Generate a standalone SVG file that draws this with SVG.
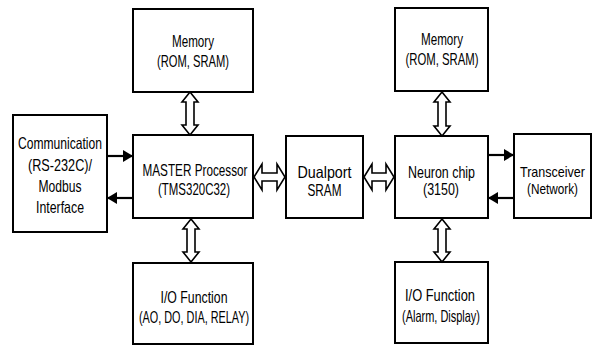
<svg xmlns="http://www.w3.org/2000/svg" width="595" height="346" viewBox="0 0 595 346">
<defs>
<style>
.box{fill:#fff;stroke:#000;stroke-width:2}
text{font-family:"Liberation Sans",Arial,sans-serif;font-size:16.5px;text-anchor:middle;fill:#000}
.sm{font-size:14.5px}
.ha{fill:#fff;stroke:#000;stroke-width:1.6;stroke-linejoin:miter}
.ln{stroke:#000;stroke-width:2.2;fill:none}
</style>
<marker id="ah" viewBox="0 0 10 12" refX="10" refY="6" markerWidth="10" markerHeight="12" markerUnits="userSpaceOnUse" orient="auto">
<path d="M0,0 L10,6 L0,12 Z" fill="#000"/>
</marker>
</defs>
<rect width="595" height="346" fill="#fff"/>
<g id="mem1"><rect class="box" x="133" y="9" width="120" height="83"/>
<text x="193" y="47" textLength="42" lengthAdjust="spacingAndGlyphs">Memory</text>
<text x="193" y="67" textLength="72" lengthAdjust="spacingAndGlyphs">(ROM, SRAM)</text></g>
<g id="master"><rect class="box" x="133" y="135" width="120" height="83"/>
<text x="195" y="176" textLength="105" lengthAdjust="spacingAndGlyphs">MASTER Processor</text>
<text x="194" y="195" textLength="72" lengthAdjust="spacingAndGlyphs">(TMS320C32)</text></g>
<g id="io1"><rect class="box" x="133" y="263" width="120" height="81"/>
<text x="194" y="303" textLength="67" lengthAdjust="spacingAndGlyphs">I/O Function</text>
<text x="194" y="323" textLength="110" lengthAdjust="spacingAndGlyphs">(AO, DO, DIA, RELAY)</text></g>
<g id="comm"><rect class="box" x="13" y="115" width="94" height="117"/>
<text x="60" y="149" textLength="84" lengthAdjust="spacingAndGlyphs">Communication</text>
<text x="60" y="171" textLength="64" lengthAdjust="spacingAndGlyphs">(RS-232C)/</text>
<text x="60" y="192" textLength="43" lengthAdjust="spacingAndGlyphs">Modbus</text>
<text x="60" y="213" textLength="48" lengthAdjust="spacingAndGlyphs">Interface</text></g>
<g id="dual"><rect class="box" x="286" y="136" width="77" height="82"/>
<text x="324.5" y="178" textLength="54" lengthAdjust="spacingAndGlyphs">Dualport</text>
<text x="324.5" y="196" textLength="34" lengthAdjust="spacingAndGlyphs">SRAM</text></g>
<g id="mem2"><rect class="box" x="395" y="8" width="93" height="83"/>
<text x="442" y="45" textLength="42" lengthAdjust="spacingAndGlyphs">Memory</text>
<text x="442" y="65" textLength="73" lengthAdjust="spacingAndGlyphs">(ROM, SRAM)</text></g>
<g id="neuron"><rect class="box" x="395" y="136" width="93" height="82"/>
<text x="441.5" y="178" textLength="67" lengthAdjust="spacingAndGlyphs">Neuron chip</text>
<text x="441" y="195" textLength="36" lengthAdjust="spacingAndGlyphs">(3150)</text></g>
<g id="io2"><rect class="box" x="395" y="262" width="93" height="81"/>
<text x="440" y="301" textLength="70" lengthAdjust="spacingAndGlyphs">I/O Function</text>
<text x="441" y="322" textLength="78" lengthAdjust="spacingAndGlyphs">(Alarm, Display)</text></g>
<g id="trans"><rect class="box" x="514" y="134" width="77" height="84"/>
<text class="sm" x="552.5" y="177" textLength="65" lengthAdjust="spacingAndGlyphs">Transceiver</text>
<text class="sm" x="552.5" y="194" textLength="51" lengthAdjust="spacingAndGlyphs">(Network)</text></g>
<g id="connectors">
<path class="ha" d="M190,92 L198,102 L194,102 L194,125 L198,125 L190,135 L182,125 L186,125 L186,102 L182,102 Z"/>
<path class="ha" d="M191,219 L199,229 L195,229 L195,252 L199,252 L191,262 L183,252 L187,252 L187,229 L183,229 Z"/>
<path class="ha" d="M442,92 L450,102 L446,102 L446,126 L450,126 L442,136 L434,126 L438,126 L438,102 L434,102 Z"/>
<path class="ha" d="M442,219 L450,229 L446,229 L446,252 L450,252 L442,262 L434,252 L438,252 L438,229 L434,229 Z"/>
<path class="ha" d="M254,177 L262,164 L262,173 L277,173 L277,164 L285,177 L277,190 L277,181 L262,181 L262,190 Z"/>
<path class="ha" d="M364,177 L372,164 L372,173 L386,173 L386,164 L394,177 L386,190 L386,181 L372,181 L372,190 Z"/>
<line class="ln" x1="107" y1="156" x2="133" y2="156" marker-end="url(#ah)"/>
<line class="ln" x1="133" y1="198" x2="107" y2="198" marker-end="url(#ah)"/>
<line class="ln" x1="488" y1="155" x2="514" y2="155" marker-end="url(#ah)"/>
<line class="ln" x1="514" y1="198" x2="488" y2="198" marker-end="url(#ah)"/>
</g>
</svg>
